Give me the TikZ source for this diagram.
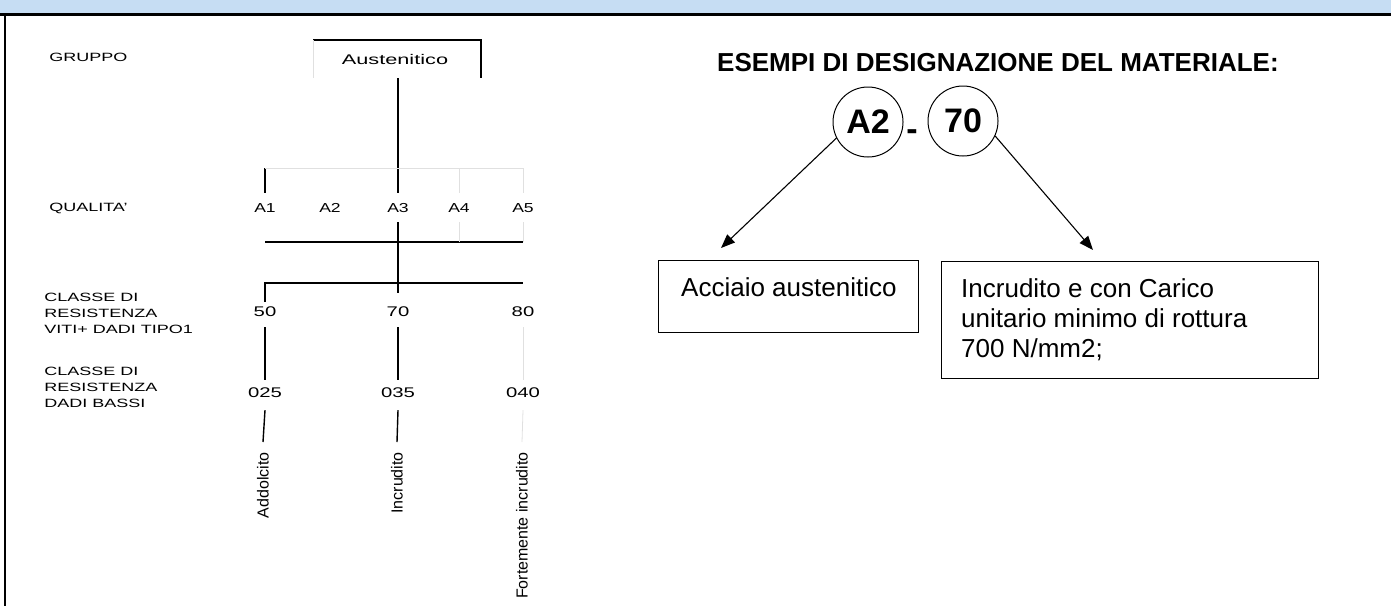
\documentclass[tikz,border=0pt]{standalone}
\usepackage{fontspec}
\setmainfont{Liberation Sans}
\usetikzlibrary{arrows.meta}
\definecolor{bandblue}{HTML}{C6DDF3}
\begin{document}
\begin{tikzpicture}[x=1pt,y=-1pt,
  scan/.style={font=\fontsize{12}{12}\selectfont, inner sep=0pt, xscale=1.5, anchor=west},
  alab/.style={font=\fontsize{13}{13}\selectfont, inner sep=0pt, xscale=1.35},
  num/.style={font=\fontsize{14}{14}\selectfont, inner sep=0pt, xscale=1.45},
  rot/.style={font=\fontsize{16}{16}\selectfont, inner sep=0pt, rotate=90, anchor=east},
  tree/.style={line width=1.4pt},
  faint/.style={line width=0.8pt, black!12},
  circ/.style={circle, draw, line width=1pt, minimum size=70pt, inner sep=0pt, font=\fontsize{34}{34}\selectfont\bfseries},
  boxed/.style={draw, line width=1.3pt, inner sep=0pt, anchor=north west},
  boxtxt/.style={font=\fontsize{26}{30}\selectfont, inner sep=0pt, anchor=base west},
  arr/.style={line width=1.1pt, -{Triangle[length=14pt,width=11pt]}}
]
\useasboundingbox (0,0) rectangle (1391,606);
% header band and frame
\fill[bandblue] (0,0) rectangle (1391,13.5);
\draw[line width=2.6pt] (0,14.5) -- (1391,14.5);
\draw[line width=2.6pt] (5,14.5) -- (5,606);

% ---------- left: tree ----------
\node[scan] (gruppo) at (49,57) {GRUPPO};
\node[scan] (qualita) at (49,208) {QUALITA'};
\node[scan] (cl1a) at (44,297) {CLASSE DI};
\node[scan] (cl1b) at (44,313) {RESISTENZA};
\node[scan] (cl1c) at (44,329) {VITI+ DADI TIPO1};
\node[scan] (cl2a) at (44,371) {CLASSE DI};
\node[scan] (cl2b) at (44,387) {RESISTENZA};
\node[scan] (cl2c) at (44,403) {DADI BASSI};

\node[font=\fontsize{14}{14}\selectfont, inner sep=0pt, xscale=1.55] (aus) at (395,59) {Austenitico};
\coordinate (bxl) at (313,40);
\coordinate (bxr) at (481,40);
\coordinate (bxb) at (481,78);
\coordinate (bxlb) at (313,78);
\draw[tree] (bxl) -- (bxr) -- (bxb);
\draw[faint] (bxl) -- (bxlb);

\node[alab] (qA1) at (265,208) {A1};
\node[alab] (qA2) at (330,208) {A2};
\node[alab] (qA3) at (398,208) {A3};
\node[alab] (qA4) at (459,208) {A4};
\node[alab] (qA5) at (523,208) {A5};

\node[num] (n50) at (265,312) {50};
\node[num] (n70) at (398,312) {70};
\node[num] (n80) at (523,312) {80};
\node[num] (n025) at (265,393) {025};
\node[num] (n035) at (398,393) {035};
\node[num] (n040) at (523,393) {040};

\node[rot] (r1) at (263,452) {Addolcito};
\node[rot] (r2) at (397,452) {Incrudito};
\node[rot] (r3) at (522,452) {Fortemente incrudito};

% junction coordinates
\coordinate (a3top) at (398,78);
\coordinate (a3up) at (398,193);
\coordinate (a1up) at (265,168);
\coordinate (a1dn) at (265,193);
\coordinate (l1l) at (265,242);
\coordinate (l1r) at (523,242);
\coordinate (l2l) at (265,283);
\coordinate (l2r) at (523,283);
\coordinate (a3dn) at (398,222);
\coordinate (c70up) at (398,293);
\coordinate (c50up) at (265,302);

\draw[tree] (a3top) -- (a3up);
\draw[tree] (a1up) -- (a1dn);
\draw[tree] (l1l) -- (l1r);
\draw[tree] (a3dn) -- (c70up);
\draw[tree] (c50up) -- (l2l) -- (l2r);
\draw[faint] (a1up) -- (523,168);
\draw[faint] (459,168) -- (459,193) (523,168) -- (523,193);
\draw[faint] (459,222) -- (459,242) (523,222) -- (523,242);

\draw[tree] ([yshift=-10pt]n50.south) -- ([yshift=8pt]n025.north);
\draw[tree] ([yshift=-10pt]n70.south) -- ([yshift=8pt]n035.north);
\draw[faint] ([yshift=-10pt]n80.south) -- ([yshift=8pt]n040.north);
\draw[tree] ([yshift=-12pt]n025.south) -- ([yshift=10pt]r1.east);
\draw[tree] ([yshift=-12pt]n035.south) -- ([yshift=10pt]r2.east);
\draw[faint] ([yshift=-12pt]n040.south) -- ([yshift=10pt]r3.east);

% ---------- right: designation example ----------
\node[font=\fontsize{26}{26}\selectfont\bfseries, inner sep=0pt, anchor=base west] (title) at (717,71) {ESEMPI DI DESIGNAZIONE DEL MATERIALE:};
\node[circ] (a2) at (868,122) {A2};
\node[font=\fontsize{34}{34}\selectfont\bfseries, inner sep=0pt, anchor=base] (dash) at (912,140) {-};
\node[circ] (c70) at (963,121) {70};

\node[boxed, minimum width=260pt, minimum height=72pt] (b1) at (658,260) {};
\node[boxed, minimum width=377pt, minimum height=117pt] (b2) at (941,261) {};
\node[boxtxt] (t1) at (681,296) {Acciaio austenitico};
\node[boxtxt] (t2a) at (961,297) {Incrudito e con Carico};
\node[boxtxt] (t2b) at (961,327) {unitario minimo di rottura};
\node[boxtxt] (t2c) at (961,357) {700 N/mm2;};

\coordinate (tip1) at (721,248);
\coordinate (tip2) at (1093,250);
\draw[arr] (a2.207) -- (tip1);
\draw[arr] (c70.-25) -- (tip2);
\end{tikzpicture}
\end{document}
